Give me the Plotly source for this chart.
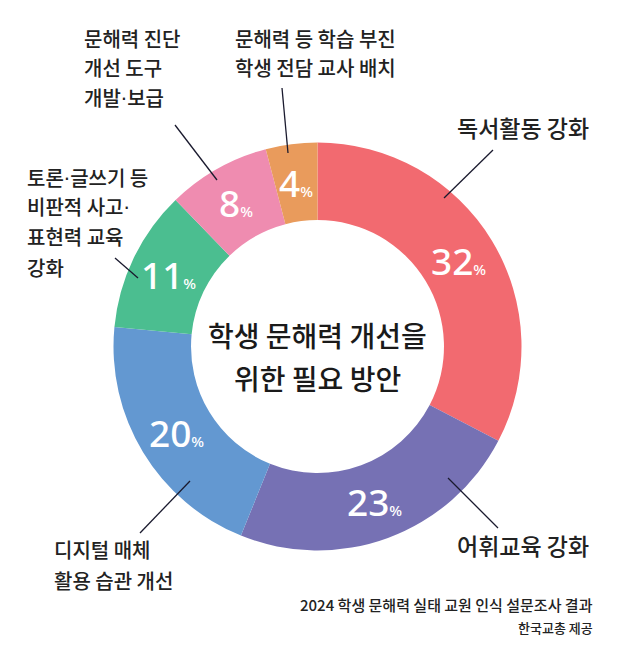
import math
import plotly.graph_objects as go

categories = ["독서활동 강화", "어휘교육 강화", "디지털 매체 활용 습관 개선",
              "토론·글쓰기 등 비판적 사고·표현력 교육 강화",
              "문해력 진단 개선 도구 개발·보급",
              "문해력 등 학습 부진 학생 전담 교사 배치"]
values = [32, 23, 20, 11, 8, 4]
colors = ["#F26A70", "#7671B4", "#6398D1", "#4BBE90", "#EF8CB0", "#E99B5C"]

# page has an 8px body margin; reference pixel coords are shifted by it
OFF = 8
W, H = 640 - OFF, 652 - OFF
cx, cy, R = 317.5 - OFF, 346.5 - OFF, 204
HOLE = 0.62


def px(x):
    return (x - OFF) / W


def py(y):
    return 1 - (y - OFF) / H


fig = go.Figure(go.Pie(
    labels=categories, values=values, sort=False, direction="clockwise",
    rotation=0, hole=HOLE,
    marker=dict(colors=colors, line=dict(width=0)),
    textinfo="none",
    showlegend=False, hoverinfo="label+value",
    domain=dict(x=[(cx - R) / W, (cx + R) / W], y=[(H - cy - R) / H, (H - cy + R) / H]),
))

KFONT = "Noto Sans CJK KR, Noto Sans, sans-serif"
DOT = "<span style='font-family:DejaVu Sans'>·</span>"
ann = []


def txt(x, y, s, size, xanchor="left", color="#222222", weight=500):
    ann.append(dict(x=px(x), y=py(y), xref="paper", yref="paper",
                    text=s.replace("·", DOT),
                    showarrow=False, xanchor=xanchor, yanchor="middle",
                    font=dict(family=KFONT, size=size, color=color, weight=weight)))


# percentage labels placed at mid-angle of each slice, mid-ring radius
total = sum(values)
cum = 0
rmid = R * (1 + HOLE) / 2
for v in values:
    ang = (cum + v / 2) / total * 2 * math.pi
    cum += v
    x = cx + OFF + rmid * math.sin(ang)
    y = cy + OFF - rmid * math.cos(ang)
    ann.append(dict(x=px(x), y=py(y), xref="paper", yref="paper",
                    text=f"{v}<span style='font-size:15px'>%</span>",
                    showarrow=False, xanchor="center", yanchor="middle",
                    font=dict(family="Noto Sans, Open Sans, sans-serif", size=37,
                              color="white", weight=500)))

# outer labels
txt(455, 127, "독서활동 강화", 23)
txt(455, 545, "어휘교육 강화", 23)
txt(52, 549, "디지털 매체", 20)
txt(52, 580, "활용 습관 개선", 20)
for i, s in enumerate(["토론·글쓰기 등", "비판적 사고·", "표현력 교육", "강화"]):
    txt(25, 177 + 30 * i, s, 20)
for i, s in enumerate(["문해력 진단", "개선 도구", "개발·보급"]):
    txt(82, 38 + 30 * i, s, 20)
for i, s in enumerate(["문해력 등 학습 부진", "학생 전담 교사 배치"]):
    txt(233, 38 + 30 * i, s, 20)

# center title
txt(317.5, 335, "학생 문해력 개선을", 28, xanchor="center", color="#1a1a1a")
txt(317.5, 378, "위한 필요 방안", 28, xanchor="center", color="#1a1a1a")

# source
txt(595, 604, "2024 학생 문해력 실태 교원 인식 설문조사 결과", 15, xanchor="right")
txt(595, 627, "한국교총 제공", 13, xanchor="right")

# leader lines
lines = [((493, 150), (444, 198)), ((448, 478), (498, 528)),
         ((190, 481), (140, 533)), ((115, 258), (138, 278)),
         ((175, 125), (217, 180)), ((282, 88), (288, 153))]
shapes = []
for (x0, y0), (x1, y1) in lines:
    shapes.append(dict(type="line", xref="paper", yref="paper",
                       x0=px(x0), y0=py(y0), x1=px(x1), y1=py(y1),
                       line=dict(color="#1a1a2e", width=1.3)))

fig.update_layout(width=W, height=H, margin=dict(l=0, r=0, t=0, b=0),
                  paper_bgcolor="white", plot_bgcolor="white",
                  annotations=ann, shapes=shapes)
fig.write_html("out.html")
